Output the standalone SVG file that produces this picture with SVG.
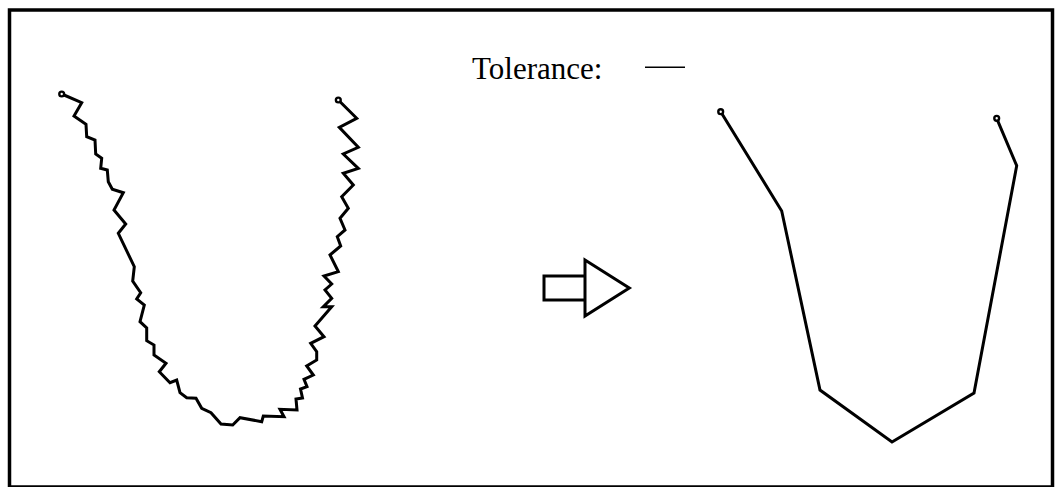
<svg xmlns="http://www.w3.org/2000/svg" width="1060" height="487" viewBox="0 0 1060 487">
<style>
.ln{fill:none;stroke:#000;stroke-width:3;stroke-linejoin:miter;stroke-miterlimit:4}
.dot{fill:#fff;stroke:#000;stroke-width:2.4}
.frame{fill:none;stroke:#000;stroke-width:3.5}
.lbl{font-family:"Liberation Serif","Times New Roman",serif;font-size:31px;fill:#000}
</style>
<rect width="1060" height="487" fill="#fff"/>
<rect class="frame" x="9.5" y="10" width="1043" height="477"/>
<g id="noisy-curve">
<polyline class="ln" points="61.7,94 81.7,102.7 74,116 86,124.3 86.7,136.7 95,140 95.7,154 101.7,158.3 100.7,168.3 107.3,170 108.3,181.7 112.3,189.3 123.3,192.7 114,210 125.7,224 118.3,233.3 134.3,266.7 132.7,281 140.7,292.7 136.7,299 144.3,305 140,321.7 146.7,328 146.7,340.7 154,345 154,355 166,363.3 159.3,371.7 170,382.7 176.7,380 180,392.7 186.7,397.7 196,398.3 201.7,408.3 211,412.7 221,424 232.7,425 240,417.7 261.7,421.7 263.3,416 284,416.7 280,409.3 297,410 296,399 302.5,398 300.5,389 307,386.7 304,379.3 313.3,375 306.7,366 316.7,360 316.7,351.7 310.7,343.3 324,336.7 315,326 331.7,306.7 323.3,306.7 331.7,298.3 325,290 331.7,284 324,276 338.3,271.7 330,255 340.7,246 337.3,236.7 345,230 340,218.3 348.3,208.3 341.7,196.7 353.3,185 343.3,173.3 358.3,168.3 343.3,154 358.3,147.3 339.3,127.3 356.7,118.3 338.3,100"/>
<circle class="dot" cx="61.7" cy="94" r="2.4"/>
<circle class="dot" cx="338.3" cy="100" r="2.4"/>
</g>
<g id="arrow">
<path class="ln" d="M585,276 H544 V300 H585 M585,260 L629.3,288 L585,316 Z"/>
</g>
<g id="tolerance">
<text class="lbl" x="472" y="79">Tolerance:</text>
<line x1="645" y1="67.3" x2="685" y2="67.3" stroke="#000" stroke-width="1.6"/>
</g>
<g id="simplified-curve">
<polyline class="ln" points="720.7,111.7 781.7,211 820,390 892,442 974,393 1016.7,165.7 996.7,118.3"/>
<circle class="dot" cx="720.7" cy="111.7" r="2.4"/>
<circle class="dot" cx="996.7" cy="118.3" r="2.4"/>
</g>
</svg>
